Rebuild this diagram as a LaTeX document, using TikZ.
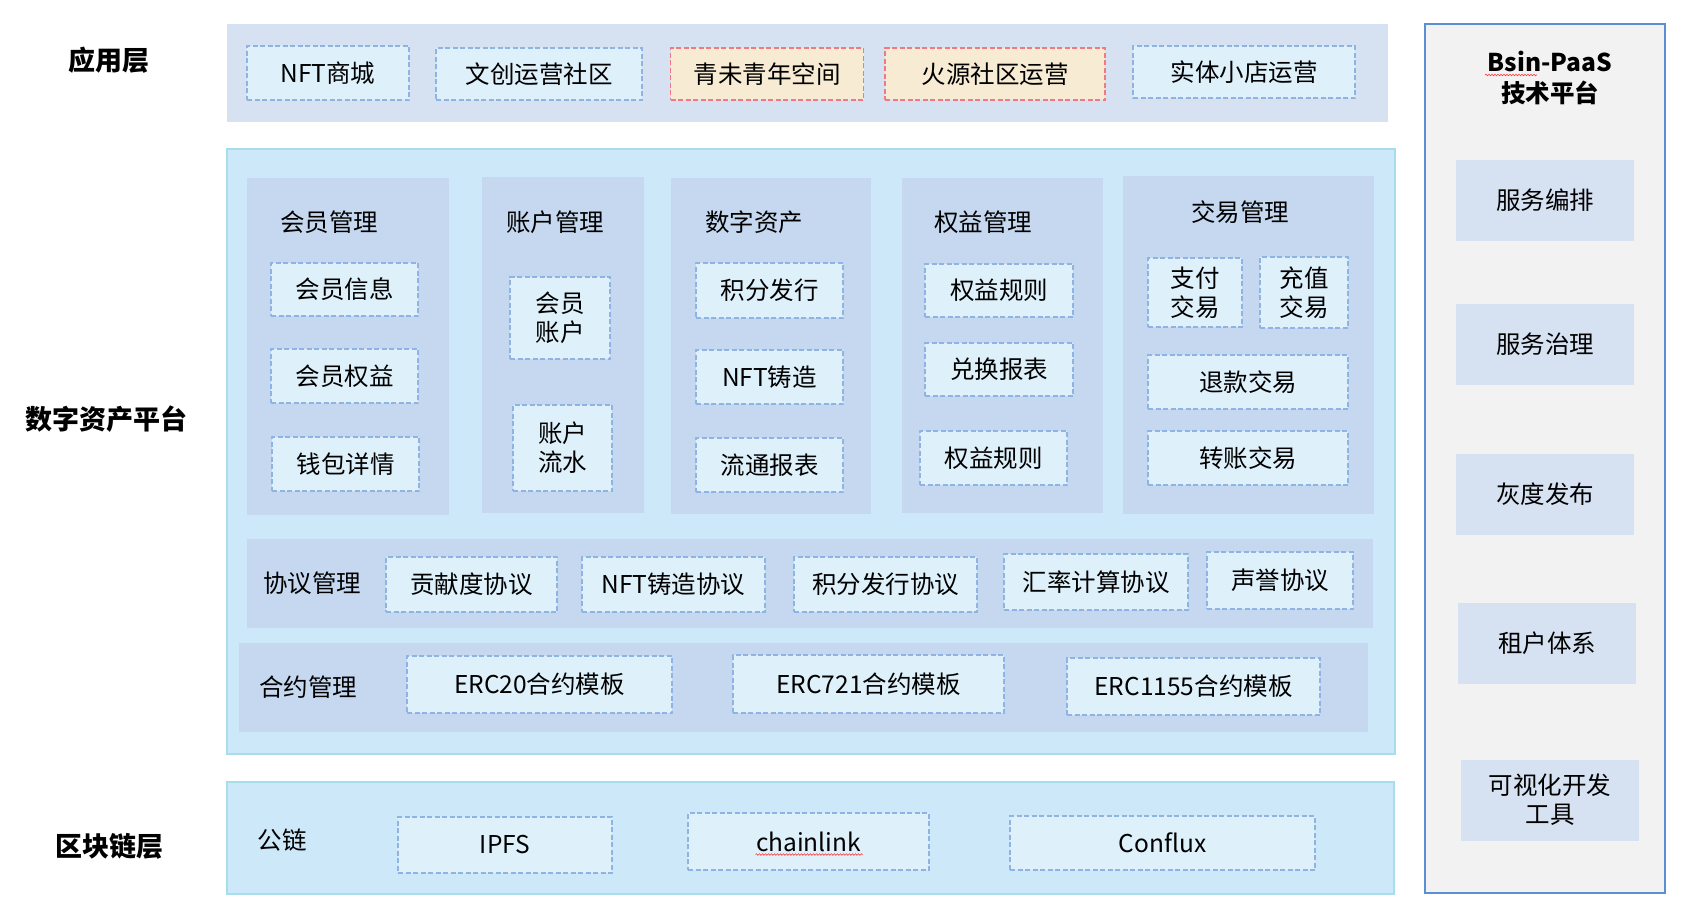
\documentclass[tikz,border=0pt]{standalone}
\usepackage{fontspec}
\setmainfont{Noto Sans CJK SC}
\usepackage{tikz}
\usetikzlibrary{positioning, decorations.pathmorphing}

\definecolor{bandblue}{RGB}{214,225,241}
\definecolor{platfill}{RGB}{204,232,249}
\definecolor{platline}{RGB}{166,222,235}
\definecolor{groupfill}{RGB}{197,216,239}
\definecolor{itemfill}{RGB}{222,240,250}
\definecolor{itemline}{RGB}{143,180,228}
\definecolor{hotfill}{RGB}{247,235,212}
\definecolor{hotline}{RGB}{244,120,130}
\definecolor{paasfill}{RGB}{242,242,242}
\definecolor{paasline}{RGB}{91,143,212}

\begin{document}
\begin{tikzpicture}[x=1pt, y=-1pt,
  every node/.style={inner sep=0pt, text=black, align=center, font=\fontsize{24.5}{29}\selectfont},
  wh/.style 2 args={minimum width=#1, minimum height=#2},
  band/.style={fill=bandblue},
  platband/.style={fill=platfill, draw=platline, line width=1.5pt},
  group/.style={fill=groupfill},
  item/.style={draw=itemline, fill=itemfill, line width=1.3pt, dash pattern=on 5pt off 2.5pt},
  hotitem/.style={item, draw=hotline, fill=hotfill},
  svc/.style={fill=bandblue, wh={178}{81}},
  tier/.style={font=\fontsize{27}{32}\selectfont\bfseries},
  spell/.style={draw=red!80, line width=0.6pt, decorate, decoration={snake, amplitude=0.8pt, segment length=3pt}},
]
\useasboundingbox (0,0) rectangle (1696,916);

% application layer
\node[band, wh={1161}{98}] (app) at (807.5,73) {};
\node[tier] (appname) at (109,60) {应用层};
\node[item, wh={162}{54}] (mall) at (328,73) {NFT商城};
\node[item, wh={206}{52}] (wenchuang) at (539,74) {文创运营社区};
\node[hotitem, wh={193}{52}] (qingwei) at (767,74) {青未青年空间};
\node[hotitem, wh={220}{52}] (huoyuan) at (995,74) {火源社区运营};
\node[item, wh={222}{52}] (shop) at (1244,72) {实体小店运营};

% digital asset platform
\node[platband, wh={1168}{605}] (plat) at (811,451.5) {};
\node[tier] (platname) at (106,419) {数字资产平台};

\node[group, wh={202}{337}] (member) at (347.5,346) {};
\node (memberhd) at (329,222) {会员管理};
\node[item, wh={147}{53}] (memberinfo) at (344.5,289.5) {会员信息};
\node[item, wh={147}{54}] (memberright) at (344.5,376) {会员权益};
\node[item, wh={147}{54}] (wallet) at (345.5,464) {钱包详情};

\node[group, wh={162}{336}] (account) at (563,345) {};
\node (accounthd) at (555,222) {账户管理};
\node[item, wh={100}{82}] (memberacc) at (560,318) {会员\\账户};
\node[item, wh={99}{86}] (flow) at (562.5,448) {账户\\流水};

\node[group, wh={200}{336}] (asset) at (771,346) {};
\node (assethd) at (754,222) {数字资产};
\node[item, wh={147}{55}] (points) at (769.5,290.5) {积分发行};
\node[item, wh={147}{54}] (mint) at (769.5,377) {NFT铸造};
\node[item, wh={147}{54}] (report) at (769.5,465) {流通报表};

\node[group, wh={201}{335}] (equity) at (1002.5,345.5) {};
\node (equityhd) at (983,222) {权益管理};
\node[item, wh={148}{53}] (rule) at (999,290.5) {权益规则};
\node[item, wh={148}{53}] (exchange) at (999,369.5) {兑换报表};
\node[item, wh={147}{54}] (rule2) at (993.5,458) {权益规则};

\node[group, wh={251}{338}] (trade) at (1248.5,345) {};
\node (tradehd) at (1240,212) {交易管理};
\node[item, wh={94}{69}] (pay) at (1195,292.5) {支付\\交易};
\node[item, wh={88}{71}] (topup) at (1304,292.5) {充值\\交易};
\node[item, wh={200}{54}] (refund) at (1248,382) {退款交易};
\node[item, wh={200}{54}] (transfer) at (1248,458) {转账交易};

% protocols
\node[group, wh={1126}{89}] (proto) at (810,583.5) {};
\node (protohd) at (312,583) {协议管理};
\node[item, wh={171}{55}] (contrib) at (471.5,584.5) {贡献度协议};
\node[item, wh={183}{55}] (mintproto) at (673.5,584.5) {NFT铸造协议};
\node[item, wh={183}{55}] (pointproto) at (885.5,584.5) {积分发行协议};
\node[item, wh={184}{56}] (rate) at (1096,582) {汇率计算协议};
\node[item, wh={146}{57}] (repute) at (1280,580.5) {声誉协议};

% contracts
\node[group, wh={1129}{89}] (contract) at (803.5,687.5) {};
\node (contracthd) at (308,687) {合约管理};
\node[item, wh={265}{57}] (erc20) at (539.5,684.5) {ERC20合约模板};
\node[item, wh={271}{58}] (erc721) at (868.5,684) {ERC721合约模板};
\node[item, wh={253}{57}] (erc1155) at (1193.5,686.5) {ERC1155合约模板};

% blockchain layer
\node[platband, wh={1167}{112}] (chain) at (810.5,838) {};
\node[tier] (chainname) at (109,846) {区块链层};
\node (chainhd) at (282,840) {公链};
\node[item, wh={214}{56}] (ipfs) at (505,845) {IPFS};
\node[item, wh={241}{57}] (chainlink) at (808.5,841.5) {chainlink};
\node[item, wh={305}{54}] (conflux) at (1162.5,843) {Conflux};
\draw[spell] ([xshift=-53pt, yshift=-13pt]chainlink.center) -- ([xshift=54pt, yshift=-13pt]chainlink.center);

% Bsin-PaaS panel
\node[fill=paasfill, draw=paasline, line width=2pt, wh={240}{869}] (paas) at (1545,458.5) {};
\node[font=\fontsize{24.5}{31}\selectfont\bfseries] (paashd) at (1550,78) {Bsin-PaaS\\技术平台};
\draw[spell] ([xshift=-65pt, yshift=3pt]paashd.center) -- ([xshift=-13pt, yshift=3pt]paashd.center);
\node[svc] (orch) at (1545,200) {服务编排};
\node[svc] (govern) at (1545,344) {服务治理};
\node[svc] (gray) at (1545,494) {灰度发布};
\node[svc] (tenant) at (1547,643) {租户体系};
\node[svc] (devtool) at (1550,800) {可视化开发\\工具};
\end{tikzpicture}
\end{document}
